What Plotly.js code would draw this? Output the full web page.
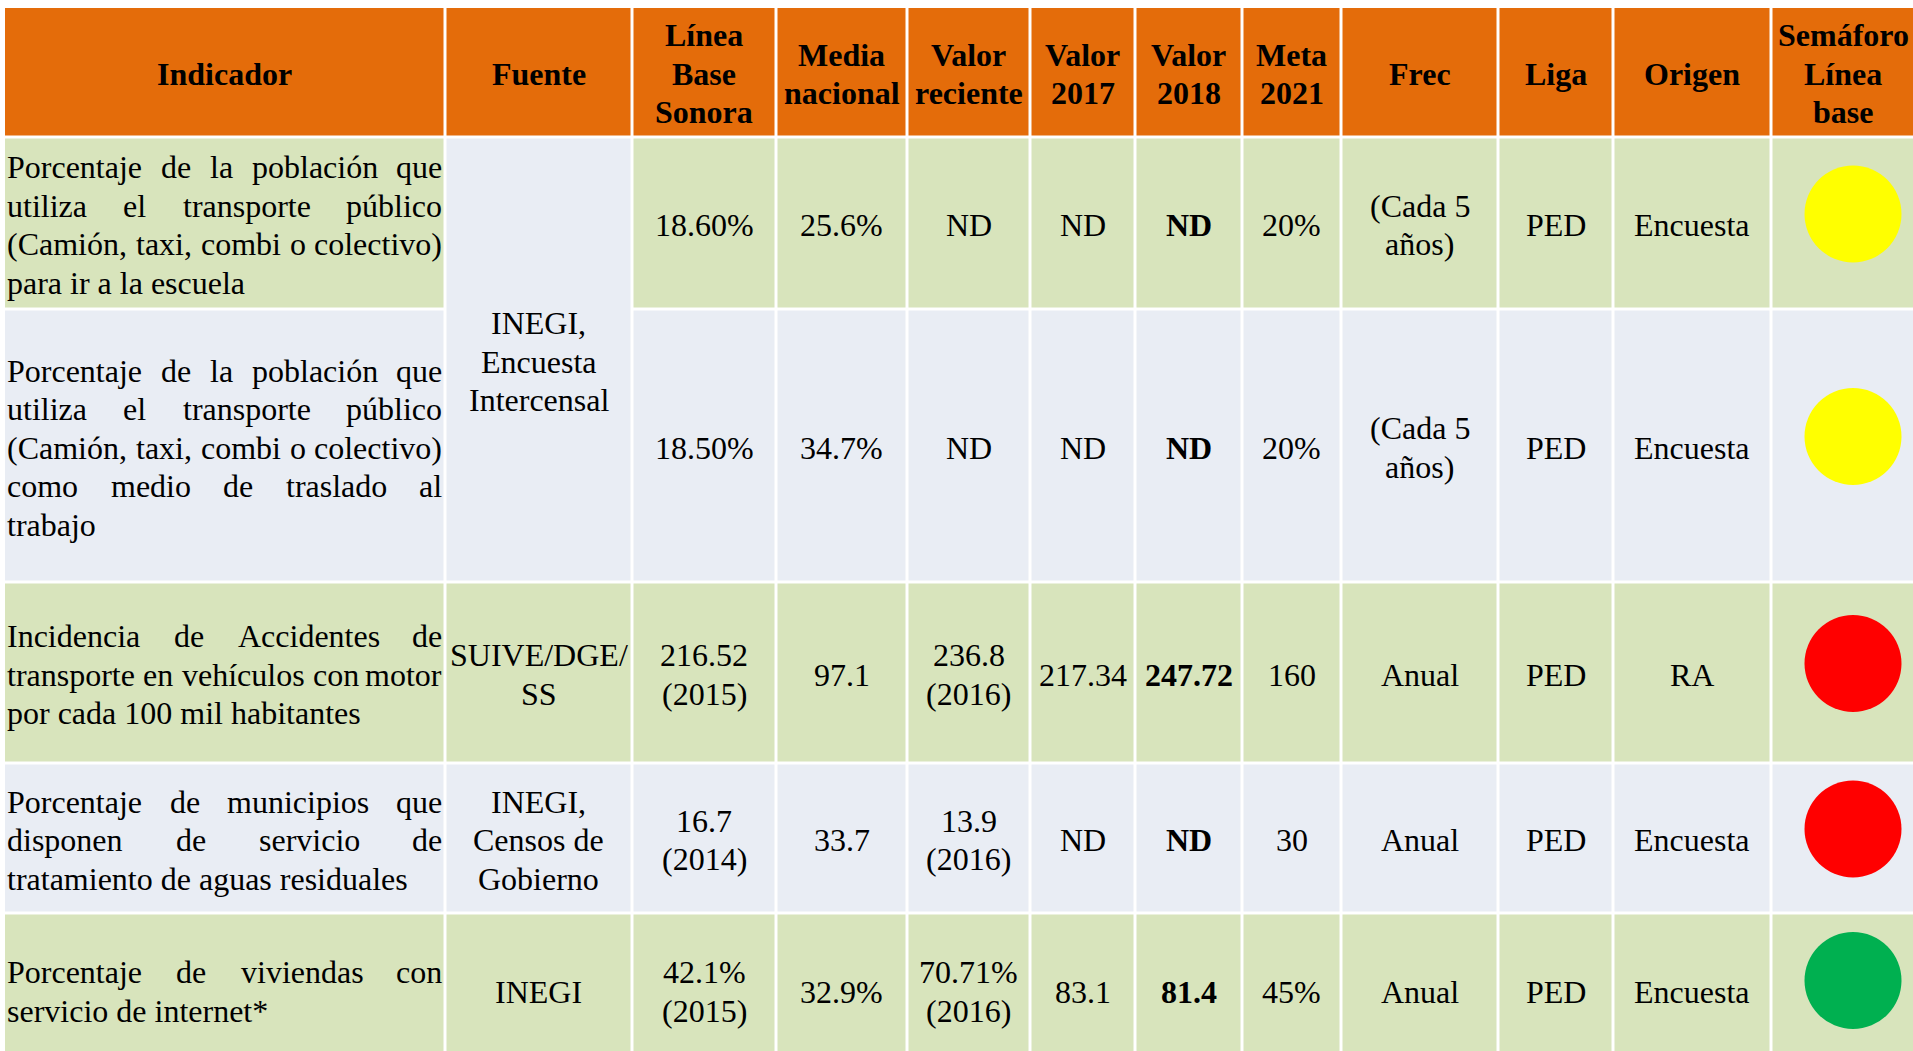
<!DOCTYPE html>
<html>
<head>
<meta charset="utf-8">
<script src="https://cdn.plot.ly/plotly-3.0.1.min.js"></script>
<style>html,body{margin:0;padding:0;background:#fff;}#chart{width:1913px;height:1051px;}</style>
</head>
<body>
<div id="chart"></div>
<script>
// ---------- DATA ----------
const headers = ["Indicador","Fuente","Línea<br>Base<br>Sonora","Media<br>nacional","Valor<br>reciente","Valor<br>2017","Valor<br>2018","Meta<br>2021","Frec","Liga","Origen","Semáforo<br>Línea<br>base"];

const indicador = [
  ["Porcentaje de la población que","utiliza el transporte público","(Camión, taxi, combi o colectivo)","para ir a la escuela"],
  ["Porcentaje de la población que","utiliza el transporte público","(Camión, taxi, combi o colectivo)","como medio de traslado  al","trabajo"],
  ["Incidencia de Accidentes de","transporte en vehículos con motor","por cada 100 mil habitantes"],
  ["Porcentaje de municipios que","disponen de servicio de","tratamiento de aguas residuales"],
  ["Porcentaje de viviendas con","servicio de internet*"]
];
// Fuente: first entry spans rows 1-2
const fuente = [
  {text:"INEGI,<br>Encuesta<br>Intercensal", rows:[0,1]},
  {text:"SUIVE/DGE/<br>SS", rows:[2,2]},
  {text:"INEGI,<br>Censos de<br>Gobierno", rows:[3,3]},
  {text:"INEGI", rows:[4,4]}
];
const lineaBase   = ["18.60%","18.50%","216.52<br>(2015)","16.7<br>(2014)","42.1%<br>(2015)"];
const mediaNac    = ["25.6%","34.7%","97.1","33.7","32.9%"];
const valorRec    = ["ND","ND","236.8<br>(2016)","13.9<br>(2016)","70.71%<br>(2016)"];
const valor2017   = ["ND","ND","217.34","ND","83.1"];
const valor2018   = ["ND","ND","247.72","ND","81.4"];
const meta2021    = ["20%","20%","160","30","45%"];
const frec        = ["(Cada 5<br>años)","(Cada 5<br>años)","Anual","Anual","Anual"];
const liga        = ["PED","PED","PED","PED","PED"];
const origen      = ["Encuesta","Encuesta","RA","Encuesta","Encuesta"];
const semaforo    = ["amarillo","amarillo","rojo","rojo","verde"];

// ---------- STYLE / LAYOUT CONSTANTS ----------
const colEdges = [3.5, 445, 632, 776, 907, 1030, 1135, 1242, 1341, 1498, 1613, 1771, 1915];
const rowEdges = [6.5, 137, 309, 582, 763, 913, 1066];
const GAP = 1.5;
const LINE = 38.5;
const FS = 32;
const FONT = "Liberation Serif, Times New Roman, serif";
const ORANGE = "#E46C0A", GREEN = "#D8E4BC", BLUE = "#E9EDF4";
const rowFill = [GREEN, BLUE, GREEN, BLUE, GREEN];
const semColors = {amarillo:"#FFFF00", rojo:"#FF0000", verde:"#00B050"};

const shapes = [], annotations = [];
const cx = c => (colEdges[c] + colEdges[c+1]) / 2;
const cy = (r0, r1) => (rowEdges[r0] + rowEdges[r1+1]) / 2;

function cell(c, r0, r1, fill) {
  shapes.push({type:"rect", xref:"x", yref:"y", layer:"below",
    x0: colEdges[c] + GAP, x1: colEdges[c+1] - GAP,
    y0: rowEdges[r0] + GAP, y1: rowEdges[r1+1] - GAP,
    fillcolor: fill, line:{width:0}});
}
function ann(text, x, y, xanchor, bold) {
  annotations.push({xref:"x", yref:"y", x:x, y:y, text: bold ? "<b>"+text+"</b>" : text,
    showarrow:false, xanchor:xanchor, yanchor:"middle", borderpad:0,
    font:{family:FONT, size:FS, color:"#000"}});
}
function centered(text, c, r0, r1, bold) {
  const lines = text.split("<br>");
  const yc = cy(r0, r1) + 2;
  lines.forEach((ln, i) => ann(ln, cx(c), yc + (i - (lines.length-1)/2) * LINE, "center", bold));
}
const canvas = document.createElement("canvas");
const ctx = canvas.getContext("2d");
ctx.font = FS + "px 'Liberation Serif'";
function justified(lines, r) {
  const left = colEdges[0] + GAP + 1, right = colEdges[1] - GAP - 1;
  const yc = cy(r, r) + 2;
  lines.forEach((ln, i) => {
    const y = yc + (i - (lines.length-1)/2) * LINE;
    const words = ln.split(/\s+/);
    const last = i === lines.length - 1;
    if (last || words.length === 1) { ann(ln, left, y, "left", false); return; }
    const widths = words.map(w => ctx.measureText(w).width);
    const total = widths.reduce((a,b)=>a+b, 0);
    const gap = (right - left - total) / (words.length - 1);
    let x = left;
    words.forEach((w, k) => {
      if (k === words.length - 1) ann(w, right, y, "right", false);
      else ann(w, x, y, "left", false);
      x += widths[k] + gap;
    });
  });
}

// header
headers.forEach((h, c) => { cell(c, 0, 0, ORANGE); });
// body cells
for (let r = 0; r < 5; r++) {
  for (let c = 0; c < 12; c++) {
    if (c === 1) continue;
    cell(c, r+1, r+1, rowFill[r]);
  }
}
fuente.forEach(f => cell(1, f.rows[0]+1, f.rows[1]+1, f.rows[0] === 0 ? BLUE : rowFill[f.rows[0]]));

// header text
headers.forEach((h, c) => centered(h, c, 0, 0, true));
// body text
indicador.forEach((lines, r) => justified(lines, r+1));
fuente.forEach(f => centered(f.text, 1, f.rows[0]+1, f.rows[1]+1, false));
const cols = [lineaBase, mediaNac, valorRec, valor2017, valor2018, meta2021, frec, liga, origen];
cols.forEach((arr, k) => {
  const c = k + 2;
  arr.forEach((v, r) => centered(v, c, r+1, r+1, c === 6));
});

// semáforo markers
const semX = semaforo.map(() => cx(11) + 10);
const semY = semaforo.map((s, r) => cy(r+1, r+1) - 9);
const traces = [{
  type:"scatter", mode:"markers", x: semX, y: semY, hoverinfo:"skip",
  marker:{size:97, color: semaforo.map(s => semColors[s]), line:{width:0}},
  showlegend:false, cliponaxis:false
}];

const layout = {
  width:1913, height:1051, margin:{l:0,r:0,t:0,b:0},
  paper_bgcolor:"#fff", plot_bgcolor:"#fff", showlegend:false,
  xaxis:{range:[0,1913], visible:false, fixedrange:true},
  yaxis:{range:[1051,0], visible:false, fixedrange:true},
  shapes: shapes, annotations: annotations
};
Plotly.newPlot("chart", traces, layout, {staticPlot:true, displayModeBar:false});
</script>
</body>
</html>
